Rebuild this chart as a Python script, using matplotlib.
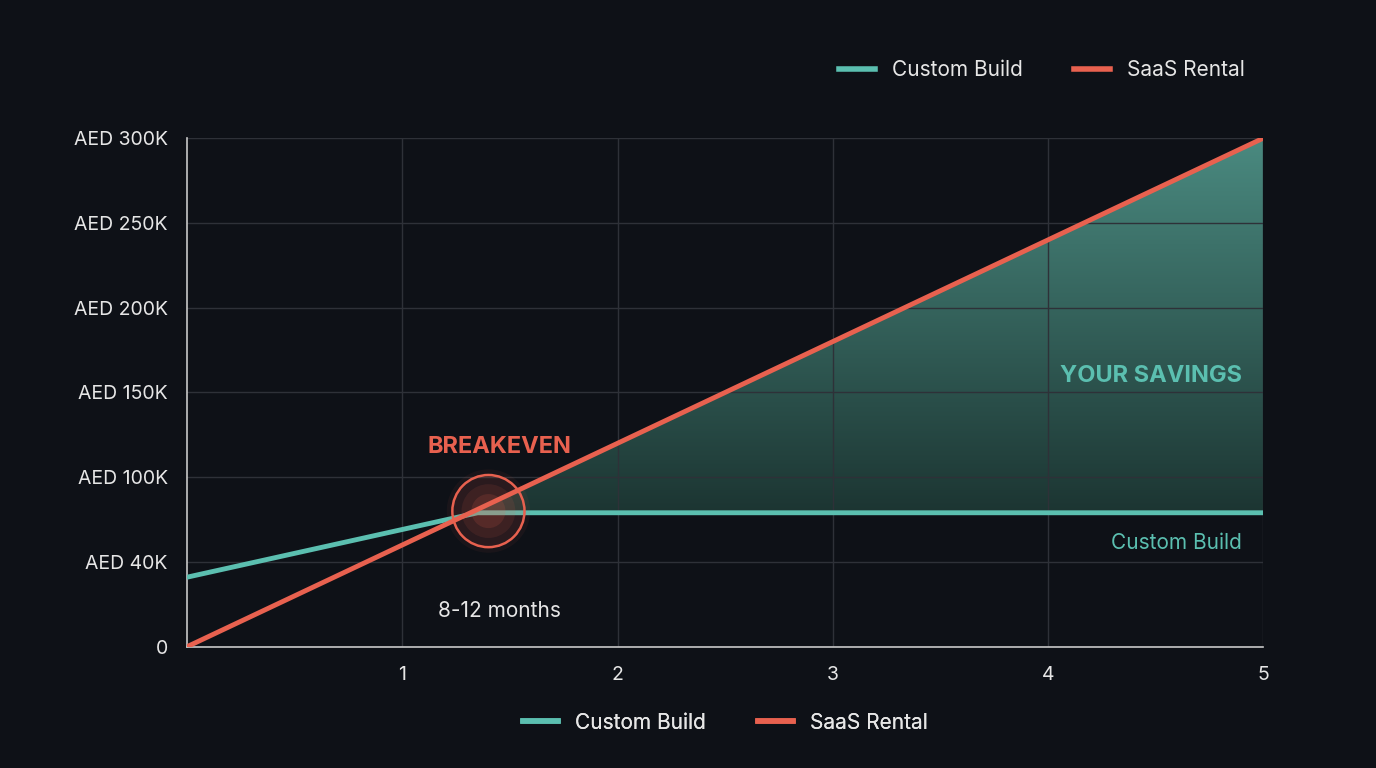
import numpy as np
import matplotlib.pyplot as plt
from matplotlib.lines import Line2D
from matplotlib.patches import Polygon
from matplotlib.colors import LinearSegmentedColormap

plt.rcParams['font.family'] = ['Inter', 'DejaVu Sans']

years = [0, 1.35, 5]
custom_build = [41000, 79000, 79000]
saas_years = [0, 5]
saas_rental = [0, 300000]
y_ticks = [0, 50000, 100000, 150000, 200000, 250000, 300000]
y_labels = ["0", "AED 40K", "AED 100K", "AED 150K", "AED 200K", "AED 250K", "AED 300K"]
x_ticks = [1, 2, 3, 4, 5]

BG = "#0e1117"
TEAL = "#5bbfb0"
RED = "#e8614f"
GRID = "#2e3138"

fig = plt.figure(figsize=(13.76, 7.68), dpi=100, facecolor=BG)
ax = fig.add_axes([0.136, 0.158, 0.782, 0.662])
ax.set_facecolor(BG)

# savings area: gradient clipped to region between lines
xs = np.linspace(0, 5, 400)
c = np.interp(xs, years, custom_build)
s = np.interp(xs, saas_years, saas_rental)
m = s >= c
poly_pts = list(zip(xs[m], s[m])) + list(zip(xs[m][::-1], c[m][::-1]))
poly = Polygon(poly_pts, closed=True, facecolor="none", edgecolor="none")
ax.add_patch(poly)
grad = np.linspace(0, 1, 256).reshape(-1, 1)
cmap = LinearSegmentedColormap.from_list("g", ["#1c3532", "#4a8a80"])
im = ax.imshow(grad, extent=[1.3, 5, 79000, 300000], origin="lower", aspect="auto",
               cmap=cmap, zorder=1)
im.set_clip_path(poly)

ax.plot(years, custom_build, color=TEAL, lw=3.5, zorder=3, solid_capstyle="round")
ax.plot(saas_years, saas_rental, color=RED, lw=3.5, zorder=4, solid_capstyle="round")

# breakeven glow
bx, by = 1.4, 80000
for r, a in [(3600, 0.06), (2600, 0.08), (1500, 0.1), (600, 0.15)]:
    ax.scatter([bx], [by], s=r, color=RED, alpha=a, edgecolors="none", zorder=5)
ax.scatter([bx], [by], s=2700, facecolors="none", edgecolors=RED, lw=1.8, zorder=6)
ax.text(1.45, 118000, "BREAKEVEN", color=RED, fontsize=17, fontweight="bold", ha="center", va="center")
ax.text(1.45, 21000, "8-12 months", color="#e6e6e6", fontsize=15, ha="center", va="center")
ax.text(4.9, 160000, "YOUR SAVINGS", color=TEAL, fontsize=17, fontweight="bold", ha="right", va="center")
ax.text(4.9, 61000, "Custom Build", color=TEAL, fontsize=15, ha="right", va="center")

ax.set_xlim(0, 5)
ax.set_ylim(0, 300000)
ax.set_xticks(x_ticks)
ax.set_yticks(y_ticks)
ax.set_yticklabels(y_labels)
ax.tick_params(colors="#e6e6e6", labelsize=14, length=0, pad=14)
ax.grid(True, color=GRID, lw=1)
for sp in ["top", "right"]:
    ax.spines[sp].set_visible(False)
for sp in ["left", "bottom"]:
    ax.spines[sp].set_color("#c8c8c8")
    ax.spines[sp].set_linewidth(1.2)

handles = [Line2D([], [], color=TEAL, lw=4), Line2D([], [], color=RED, lw=4)]
names = ["Custom Build", "SaaS Rental"]
for loc, anchor in [("upper right", (1.0, 1.19)), ("upper center", (0.5, -0.093))]:
    lg = ax.legend(handles, names, loc=loc, bbox_to_anchor=anchor, ncol=2, frameon=False,
                   fontsize=15, labelcolor="#e6e6e6", handlelength=1.7, columnspacing=2.5)
    ax.add_artist(lg)

fig.savefig("out.png", dpi=100, facecolor=BG)
